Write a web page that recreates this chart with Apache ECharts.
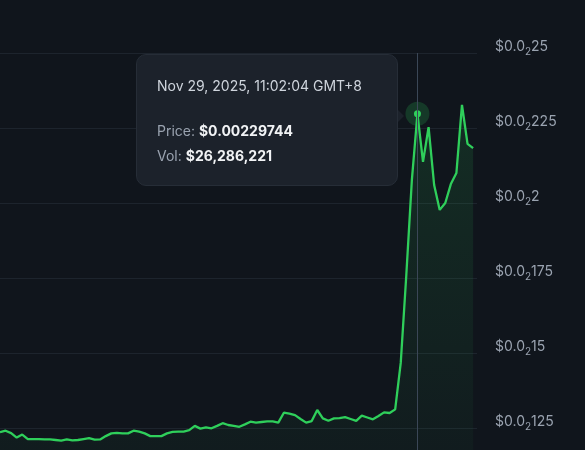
<!DOCTYPE html>
<html>
<head>
<meta charset="utf-8">
<script src="https://cdn.jsdelivr.net/npm/echarts@6/dist/echarts.min.js"></script>
<style>
html,body{margin:0;padding:0;background:#10151c;overflow:hidden;}
#c{width:585px;height:450px;}
</style>
</head>
<body>
<div id="c"></div>
<script>
// Price series (one point per step, left to right as visible)
const prices = [
  0.001236, 0.001241, 0.001233, 0.001218, 0.001228, 0.001213, 0.001213, 0.001213, 0.001212, 0.001212,
  0.001210, 0.001208, 0.001212, 0.001209, 0.001210, 0.001213, 0.001216, 0.001211, 0.001212, 0.001223,
  0.001232, 0.001234, 0.001232, 0.001232, 0.001241, 0.001238, 0.001232, 0.001223, 0.001223, 0.001223,
  0.001232, 0.001237, 0.001238, 0.001238, 0.001243, 0.001257, 0.001248, 0.001252, 0.001249, 0.001257,
  0.001266, 0.001260, 0.001257, 0.001254, 0.001262, 0.001271, 0.001268, 0.001270, 0.001272, 0.001272,
  0.001268, 0.001301, 0.001298, 0.001293, 0.001280, 0.001268, 0.001273, 0.001310, 0.001282, 0.001274,
  0.001282, 0.001283, 0.001286, 0.001280, 0.001274, 0.001291, 0.001285, 0.001279, 0.001290, 0.001302,
  0.001300, 0.001312, 0.001467, 0.001760, 0.002077, 0.00229744, 0.002137, 0.002253, 0.002060, 0.001977,
  0.002000, 0.002063, 0.002100, 0.002327, 0.002197, 0.002183
];
const hoverIndex = 75;
const hoverTime = 'Nov 29, 2025, 11:02:04 GMT+8';
const hoverVolume = 26286221;
const yTickValues = [0.00125, 0.0015, 0.00175, 0.002, 0.00225, 0.0025];
const yMin = 0.001, yMax = 0.0025, yStep = 0.00025;

const lineColor = '#2fcf5b';
const tipBg = '#1c222b';
const font = 'Inter, "Noto Sans", sans-serif';

function tickLabel(v) {
  let s = v.toFixed(8).replace(/0+$/, '');
  const m = s.match(/^0\.(0+)(\d+)$/);
  if (m && m[1].length >= 2) {
    return '{m|$0.0}{s|' + m[1].length + '}{m|' + m[2] + '}';
  }
  return '{m|$' + s + '}';
}

const chart = echarts.init(document.getElementById('c'), null, {renderer: 'canvas'});
chart.setOption({
  animation: false,
  backgroundColor: '#10151c',
  grid: {left: 0, top: 53, width: 477, height: 450, containLabel: false, outerBoundsMode: 'none'},
  graphic: [{
    type: 'polygon', silent: true, z: 100,
    shape: {points: [[397, 109], [404, 116], [397, 123]]},
    style: {fill: tipBg}
  }],
  xAxis: {
    type: 'value', min: 0, max: 85.7,
    axisLine: {show: false}, axisTick: {show: false},
    axisLabel: {show: false}, splitLine: {show: false}
  },
  yAxis: {
    type: 'value', position: 'right',
    min: yMin, max: yMax, interval: yStep,
    axisLine: {show: false}, axisTick: {show: false},
    splitLine: {lineStyle: {color: '#1d242d', width: 1}},
    axisLabel: {
      margin: 18, align: 'left', verticalAlign: 'middle',
      padding: [0, 0, 12, 0],
      formatter: function (v) { return yTickValues.some(t => Math.abs(t - v) < 1e-9) ? tickLabel(v) : ''; },
      rich: {
        m: {fontFamily: font, fontSize: 14, color: '#9aa3b0', lineHeight: 16},
        s: {fontFamily: font, fontSize: 10, color: '#9aa3b0', lineHeight: 10, padding: [9, 0, 0, 0]}
      }
    }
  },
  tooltip: {
    trigger: 'axis',
    alwaysShowContent: true,
    showDelay: 0,
    transitionDuration: 0,
    padding: 0,
    backgroundColor: tipBg,
    borderColor: '#262d37',
    borderWidth: 1,
    extraCssText: 'border-radius:10px;box-shadow:none;',
    position: [136, 54],
    axisPointer: {
      type: 'line', animation: false,
      lineStyle: {color: '#3b4757', width: 1, type: 'solid'}
    },
    formatter: function (params) {
      const p = Array.isArray(params) ? params[0] : params;
      const price = prices[p.dataIndex];
      return '<div style="position:relative;width:260px;height:130px;font-family:Inter,\'Noto Sans\',sans-serif;font-size:14px;line-height:20px;">' +
        '<div style="position:absolute;left:20px;top:21px;color:#cfd5dd;white-space:nowrap;">' + hoverTime + '</div>' +
        '<div style="position:absolute;left:20px;top:66px;color:#9aa3b0;white-space:nowrap;">Price: <b style="color:#f1f3f5;font-weight:700;">$' + price.toFixed(8) + '</b></div>' +
        '<div style="position:absolute;left:20px;top:91px;color:#9aa3b0;white-space:nowrap;">Vol: <b style="color:#f1f3f5;font-weight:700;">$' + hoverVolume.toLocaleString('en-US') + '</b></div>' +
        '</div>';
    }
  },
  series: [{
    type: 'line',
    data: prices.map((v, i) => [i, v]),
    symbol: 'none',
    lineStyle: {color: lineColor, width: 2.3},
    itemStyle: {color: lineColor},
    emphasis: {disabled: true},
    areaStyle: {
      color: new echarts.graphic.LinearGradient(0, 0, 0, 1, [
        {offset: 0, color: 'rgba(47,207,91,0.19)'},
        {offset: 1, color: 'rgba(47,207,91,0.03)'}
      ])
    },
    markPoint: {
      silent: true,
      animation: false,
      symbol: 'circle',
      label: {show: false},
      data: [
        {coord: [hoverIndex, prices[hoverIndex]], symbolSize: 24, itemStyle: {color: 'rgba(47,207,91,0.2)'}},
        {coord: [hoverIndex, prices[hoverIndex]], symbolSize: 7, itemStyle: {color: lineColor}}
      ]
    }
  }]
});
chart.dispatchAction({type: 'showTip', seriesIndex: 0, dataIndex: hoverIndex});
</script>
</body>
</html>
